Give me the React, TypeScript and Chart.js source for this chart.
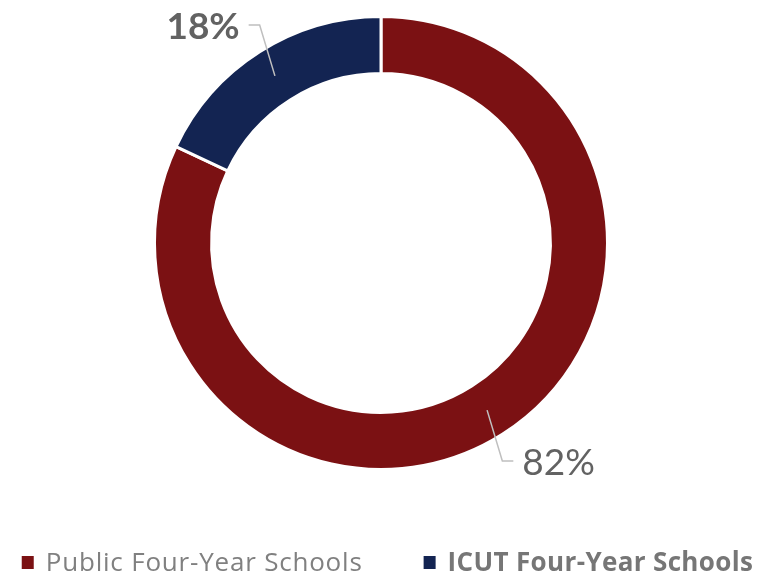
import React, { useEffect, useRef } from "react";
import { Chart, registerables } from "chart.js";

Chart.register(...registerables);

const categories = ["Public Four-Year Schools", "ICUT Four-Year Schools"];
const shares = [82, 18];
const valueLabels = ["82%", "18%"];
const colors = ["#7B1113", "#132452"];
const labelBold = [false, true];
const legendBold = [false, true];

const FONT = "Lato, 'Open Sans', sans-serif";
const LEGEND_FONT = "'Open Sans', Lato, sans-serif";

const labelPlugin = {
  id: "leaderLabels",
  afterDatasetsDraw(chart: any) {
    const ctx = chart.ctx as CanvasRenderingContext2D;
    const meta = chart.getDatasetMeta(0);
    meta.data.forEach((arc: any, i: number) => {
      const p = arc.getProps(["x", "y", "startAngle", "endAngle", "outerRadius", "innerRadius"], true);
      const a = (p.startAngle + p.endAngle) / 2;
      const rMid = (p.outerRadius + p.innerRadius) / 2;
      const sx = p.x + rMid * Math.cos(a);
      const sy = p.y + rMid * Math.sin(a);
      const ea = a + (3.3 * Math.PI) / 180;
      const er = p.outerRadius + 23;
      const ex = p.x + er * Math.cos(ea);
      const ey = p.y + er * Math.sin(ea);
      const dir = Math.cos(a) >= 0 ? 1 : -1;
      const hx = ex + dir * 11;
      ctx.save();
      ctx.strokeStyle = "#BFBFBF";
      ctx.lineWidth = 1.5;
      ctx.beginPath();
      ctx.moveTo(sx, sy);
      ctx.lineTo(ex, ey);
      ctx.lineTo(hx, ey);
      ctx.stroke();
      ctx.fillStyle = "#626262";
      ctx.font = `${labelBold[i] ? "bold " : ""}37px ${FONT}`;
      ctx.textBaseline = "alphabetic";
      ctx.textAlign = dir > 0 ? "left" : "right";
      ctx.fillText(valueLabels[i], hx + dir * 9, ey + 14);
      ctx.restore();
    });
  },
};

const legendPlugin = {
  id: "customLegend",
  afterDraw(chart: any) {
    const ctx = chart.ctx as any;
    const sq = 12;
    const gap = 12;
    const itemGap = 61;
    const fonts = categories.map((_, i) => `${legendBold[i] ? "bold " : ""}26px ${LEGEND_FONT}`);
    const spacing = categories.map((_, i) => (legendBold[i] ? "0.35px" : "0.8px"));
    ctx.save();
    const widths = categories.map((c, i) => {
      ctx.font = fonts[i];
      ctx.letterSpacing = spacing[i];
      return ctx.measureText(c).width;
    });
    let total = 0;
    widths.forEach((w: number, i: number) => {
      total += sq + gap + w + (i < widths.length - 1 ? itemGap : 0);
    });
    let x = 387.5 - total / 2;
    const baseline = 570.5;
    categories.forEach((c, i) => {
      ctx.fillStyle = colors[i];
      ctx.fillRect(x, baseline - 14.5, sq, 13);
      x += sq + gap;
      ctx.font = fonts[i];
      ctx.letterSpacing = spacing[i];
      ctx.fillStyle = legendBold[i] ? "#767676" : "#808080";
      ctx.textAlign = "left";
      ctx.textBaseline = "alphabetic";
      ctx.fillText(c, x, baseline);
      x += widths[i] + itemGap;
    });
    ctx.restore();
  },
};

export default function App() {
  const ref = useRef<HTMLCanvasElement | null>(null);
  useEffect(() => {
    if (!ref.current) return;
    const chart = new Chart(ref.current, {
      type: "doughnut",
      data: {
        labels: categories,
        datasets: [
          {
            data: shares,
            backgroundColor: colors,
            borderColor: "#FFFFFF",
            borderWidth: 3,
          },
        ],
      },
      options: {
        animation: false,
        responsive: true,
        maintainAspectRatio: false,
        cutout: "74.8%",
        layout: { padding: { left: 153, right: 150, top: 15, bottom: 102 } },
        plugins: {
          legend: { display: false },
          tooltip: { enabled: false },
        },
      },
      plugins: [labelPlugin, legendPlugin],
    });
    return () => chart.destroy();
  }, []);
  return (
    <div style={{ position: "fixed", left: 0, top: 0, width: 759, height: 573, background: "#fff" }}>
      <canvas ref={ref} />
    </div>
  );
}
